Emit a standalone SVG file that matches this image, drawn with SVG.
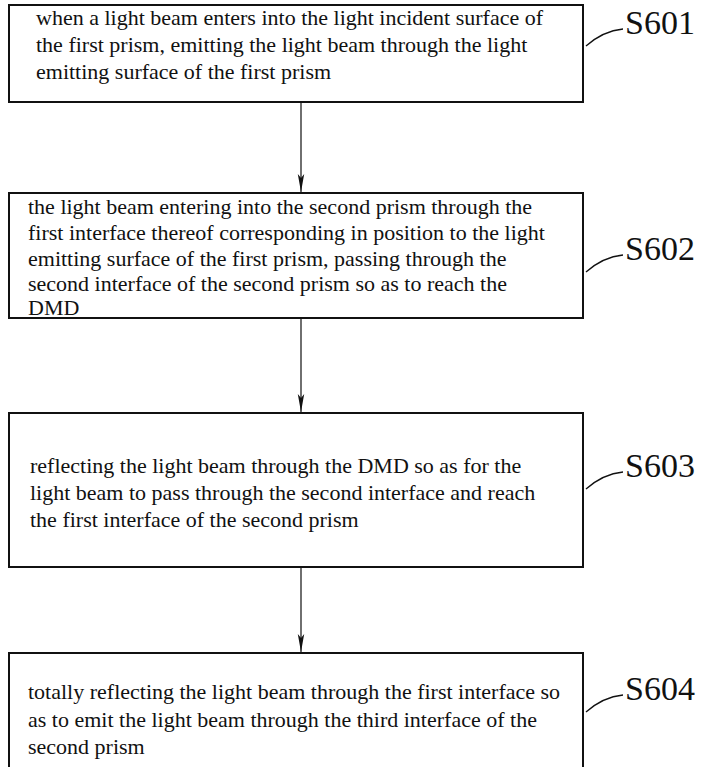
<svg xmlns="http://www.w3.org/2000/svg" width="705" height="767" viewBox="0 0 705 767">
<style>
.box{fill:#fff;stroke:#111;stroke-width:2}
.t{font-size:22px;fill:#111}
.lab{font-size:34px;fill:#111}
.lead{fill:none;stroke:#111;stroke-width:1.3}
.conn{stroke:#222;stroke-width:1.3;fill:none}
</style>
<defs>
<marker id="ah" markerWidth="20" markerHeight="8" refX="18" refY="4" orient="auto" markerUnits="userSpaceOnUse" viewBox="0 0 20 8">
<path d="M0,0.8 L18,4 L0,7.2 L4,4 Z" fill="#111"/>
</marker>
</defs>
<rect width="705" height="767" fill="#fff"/>
<g id="connectors">
<line class="conn" x1="301" y1="103" x2="301" y2="192" marker-end="url(#ah)"/>
<line class="conn" x1="301" y1="319" x2="301" y2="412" marker-end="url(#ah)"/>
<line class="conn" x1="301" y1="568" x2="301" y2="652" marker-end="url(#ah)"/>
</g>
<g id="S601" font-family="Liberation Serif, Times New Roman, serif">
<rect class="box" x="9" y="5" width="574" height="97"/>
<text class="t" x="36" y="25">when a light beam enters into the light incident surface of</text>
<text class="t" x="36" y="52">the first prism, emitting the light beam through the light</text>
<text class="t" x="36" y="79">emitting surface of the first prism</text>
<path class="lead" d="M586,46 Q603,31 623,29"/>
<text class="lab" x="625" y="34">S601</text>
</g>
<g id="S602" font-family="Liberation Serif, Times New Roman, serif">
<rect class="box" x="9" y="193" width="574" height="125"/>
<text class="t" x="28" y="214">the light beam entering into the second prism through the</text>
<text class="t" x="28" y="240">first interface thereof corresponding in position to the light</text>
<text class="t" x="28" y="266">emitting surface of the first prism, passing through the</text>
<text class="t" x="28" y="291">second interface of the second prism so as to reach the</text>
<text class="t" x="28" y="315">DMD</text>
<path class="lead" d="M586,272 Q603,257 623,255"/>
<text class="lab" x="625" y="260">S602</text>
</g>
<g id="S603" font-family="Liberation Serif, Times New Roman, serif">
<rect class="box" x="9" y="413" width="574" height="154"/>
<text class="t" x="30" y="473">reflecting the light beam through the DMD so as for the</text>
<text class="t" x="30" y="500">light beam to pass through the second interface and reach</text>
<text class="t" x="30" y="527">the first interface of the second prism</text>
<path class="lead" d="M586,489 Q603,474 623,472"/>
<text class="lab" x="625" y="477">S603</text>
</g>
<g id="S604" font-family="Liberation Serif, Times New Roman, serif">
<rect class="box" x="9" y="653" width="574" height="120"/>
<text class="t" x="28" y="699">totally reflecting the light beam through the first interface so</text>
<text class="t" x="28" y="727">as to emit the light beam through the third interface of the</text>
<text class="t" x="28" y="754">second prism</text>
<path class="lead" d="M586,712 Q603,697 623,695"/>
<text class="lab" x="625" y="700">S604</text>
</g>
</svg>
